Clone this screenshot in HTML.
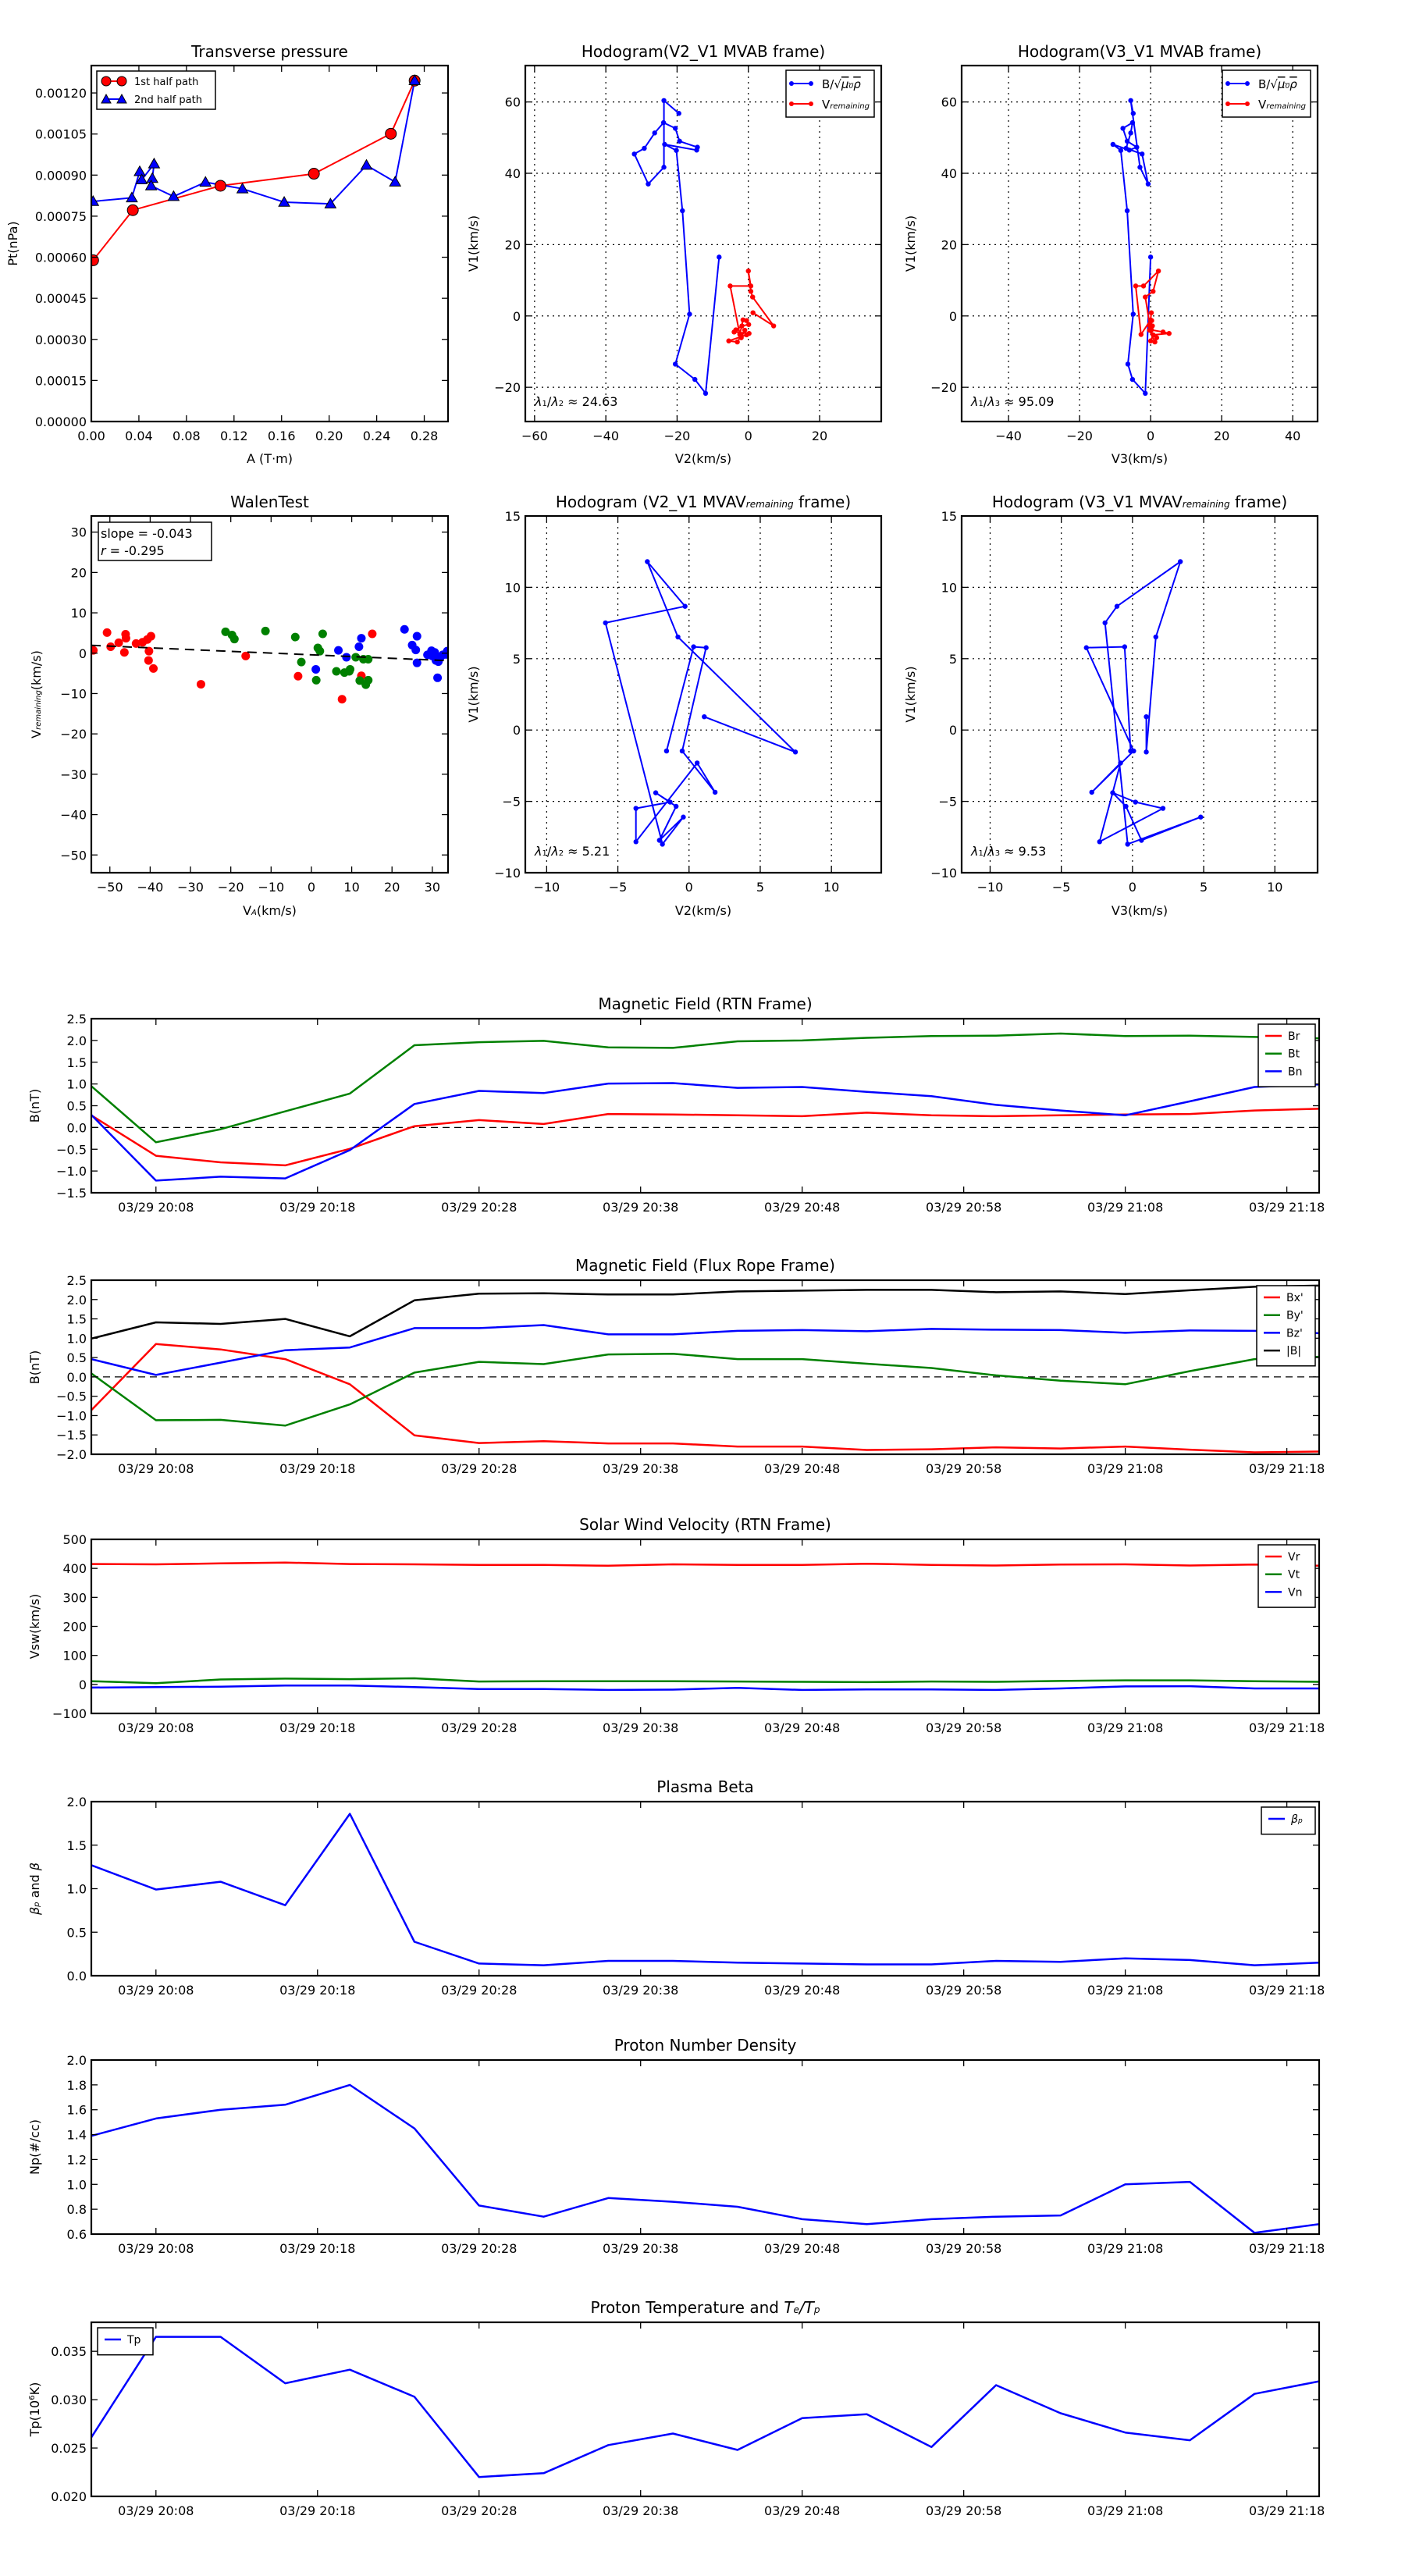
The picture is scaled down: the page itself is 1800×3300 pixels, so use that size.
<!DOCTYPE html>
<html><head><meta charset="utf-8">
<style>
html,body{margin:0;padding:0;background:#fff;}
svg{display:block;font-family:"DejaVu Sans","Liberation Sans",sans-serif;}
</style></head>
<body>
<svg id="fig" width="1800" height="3300" viewBox="0 0 1800 3300" xmlns="http://www.w3.org/2000/svg">
<rect x="0" y="0" width="1800" height="3300" fill="#fff"/>
</svg>
<script>
// ---------- DATA ----------
// Transverse pressure
const ptRedA = [0.0015, 0.0349, 0.1086, 0.1872, 0.2519, 0.2719];
const ptRedP = [0.000589, 0.000772, 0.000861, 0.000905, 0.001051, 0.001245];
const ptBlueA = [0.0015, 0.0341, 0.0407, 0.0424, 0.0528, 0.0513, 0.0503, 0.0692, 0.0960, 0.1271, 0.1622, 0.2011, 0.2314, 0.2555, 0.2719];
const ptBlueP = [0.000804, 0.000817, 0.000913, 0.000883, 0.000941, 0.000888, 0.000861, 0.000822, 0.000874, 0.000850, 0.000801, 0.000795, 0.000936, 0.000875, 0.001245];
const ptXTicks = [0, 0.04, 0.08, 0.12, 0.16, 0.20, 0.24, 0.28];
const ptYTicks = [0, 0.00015, 0.0003, 0.00045, 0.0006, 0.00075, 0.0009, 0.00105, 0.0012];

// MVAB hodograms
const hbV2 = [-8.2, -12.0, -15.0, -20.5, -16.5, -18.5, -20.2, -23.5, -14.5, -14.3, -19.3, -20.5, -23.8, -26.3, -29.2, -32.0, -28.1, -23.7, -23.7, -19.5];
const hbV1 = [16.5, -21.7, -17.8, -13.5, 0.5, 29.5, 46.4, 48.1, 46.5, 47.3, 49.0, 52.6, 54.2, 51.3, 47.0, 45.4, 37.0, 41.7, 60.4, 56.8];
const hbV3 = [0.0, -1.5, -5.1, -6.4, -4.9, -6.6, -8.4, -10.6, -6.0, -3.9, -6.6, -7.8, -5.1, -5.6, -6.9, -2.4, -0.7, -3.0, -5.6, -4.9];
const hvV2 = [1.3, 7.1, 1.2, 0.7, 0.0, 0.7, -5.1, -2.4, -1.1, -1.3, -2.4, -2.8, -3.9, -4.5, -4.9, -5.3, -7.0, -7.3, -4.0, -6.1].map((v,i)=>v); // placeholder replaced below
const hvV2d = [1.3, 7.1, 1.2, 0.7, 0.0, 0.7, -5.1, -2.4, -1.5, -0.5, 0.1, -1.8, -3.5, -4.0, 0.2, -0.5, -5.5, -3.1, -1.0, -2.0];
const hvV1d = [0.9, -2.8, 5.3, 6.9, 12.6, 8.4, 8.4, -5.2, -1.1, -1.3, -2.4, -2.8, -3.9, -4.5, -4.9, -5.3, -7.0, -7.3, -4.0, -6.1];
const hvV3d = [0.2, -0.2, -1.5, 0.7, 2.2, -2.0, -4.2, -2.7, 0.0, 0.3, -0.2, 0.5, 0.2, 3.5, 5.2, 0.7, 0.0, 1.2, -0.3, 1.7];

// MVAV hodograms
const hrV2 = [1.07, 7.47, -0.78, -2.93, -0.28, -5.87, -1.87, -0.40, -2.08, -0.91, -2.34, -1.33, -3.73, -3.73, 0.57, 1.83, -0.48, 1.20, 0.32, -1.58];
const hrV1 = [0.93, -1.54, 6.52, 11.8, 8.67, 7.51, -8.0, -6.1, -7.73, -5.35, -4.40, -5.05, -5.49, -7.83, -2.31, -4.36, -1.47, 5.77, 5.83, -1.47];
const hrV3 = [0.97, 0.97, 1.64, 3.36, -1.09, -1.93, -0.34, 4.79, 0.63, -0.46, -1.39, 0.21, 2.14, -2.31, -0.84, -2.86, 0.08, -3.24, -0.55, -0.13];

// Walen test
const walRedX = [-54.1, -50.7, -49.8, -47.8, -46.4, -46.1, -46.0, -43.5, -41.9, -40.7, -40.3, -39.8, -40.4, -39.2, -27.4, -16.3, -3.3, 7.6, 12.4, 15.1];
const walRedY = [0.7, 5.1, 1.6, 2.6, 0.2, 4.7, 3.7, 2.4, 2.7, 3.4, 0.5, 4.2, -1.8, -3.8, -7.7, -0.7, -5.7, -11.4, -5.6, 4.8];
const walGreenX = [-21.3, -19.7, -19.1, -11.4, -4.0, -2.5, 1.2, 1.6, 2.1, 2.8, 6.2, 8.2, 9.4, 9.6, 11.0, 12.0, 12.9, 13.5, 14.1, 14.1];
const walGreenY = [5.3, 4.5, 3.5, 5.5, 4.0, -2.2, -6.7, 1.3, 0.5, 4.8, -4.5, -4.8, -4.5, -4.0, -1.0, -6.8, -1.5, -7.8, -6.7, -1.5];
const walBlueX = [1.1, 6.7, 8.7, 11.8, 12.4, 23.1, 25.0, 25.9, 26.2, 26.2, 28.8, 29.8, 30.6, 31.3, 31.5, 32.0, 32.6, 33.4, 33.7, 30.0, 30.9];
const walBlueY = [-4.0, 0.7, -1.0, 1.6, 3.7, 5.9, 2.0, 0.8, 4.2, -2.4, -0.4, 0.6, 0.2, -6.1, -2.1, -1.0, -0.4, -0.3, 0.5, -0.7, -1.8];
const walSlope = -0.043;
const walIntercept = -0.4;

// Time series (20 samples every 4 min, starting 20:04)
const timeMin = [0,4,8,12,16,20,24,28,32,36,40,44,48,52,56,60,64,68,72,76];
const timeTickMin = [4,14,24,34,44,54,64,74];
const timeTickLabels = ["03/29 20:08","03/29 20:18","03/29 20:28","03/29 20:38","03/29 20:48","03/29 20:58","03/29 21:08","03/29 21:18"];
const Br = [0.28,-0.65,-0.80,-0.87,-0.49,0.03,0.17,0.08,0.31,0.30,0.28,0.26,0.34,0.28,0.26,0.28,0.30,0.31,0.39,0.43];
const Bt = [0.95,-0.34,-0.04,0.37,0.78,1.89,1.96,1.99,1.84,1.83,1.98,2.00,2.06,2.10,2.11,2.16,2.10,2.11,2.08,2.05];
const Bn = [0.29,-1.22,-1.13,-1.17,-0.52,0.54,0.84,0.79,1.01,1.02,0.91,0.93,0.82,0.72,0.52,0.39,0.28,0.60,0.93,0.99];
const Bx = [-0.86,0.85,0.71,0.46,-0.19,-1.51,-1.71,-1.66,-1.72,-1.72,-1.80,-1.80,-1.89,-1.87,-1.82,-1.85,-1.80,-1.88,-1.95,-1.93];
const By = [0.09,-1.12,-1.11,-1.26,-0.71,0.11,0.39,0.33,0.58,0.60,0.46,0.46,0.34,0.23,0.04,-0.10,-0.19,0.15,0.46,0.52];
const Bz = [0.46,0.05,0.37,0.69,0.76,1.26,1.26,1.34,1.10,1.10,1.19,1.21,1.18,1.24,1.22,1.21,1.14,1.20,1.19,1.13];
const Bmag = [0.99,1.41,1.37,1.50,1.05,1.98,2.15,2.16,2.13,2.13,2.21,2.23,2.25,2.25,2.19,2.21,2.14,2.24,2.33,2.36];
const Vr = [415,414,417,420,415,414,412,412,409,414,412,412,416,412,410,413,414,410,413,409];
const Vt = [11,4,17,20,18,21,10,11,11,11,10,9,8,10,9,12,14,14,11,9];
const Vn = [-11,-9,-8,-4,-4,-9,-16,-16,-19,-18,-12,-19,-17,-17,-19,-14,-7,-6,-14,-14];
const betaP = [1.27,0.99,1.08,0.81,1.86,0.39,0.14,0.12,0.17,0.17,0.15,0.14,0.13,0.13,0.17,0.16,0.20,0.18,0.12,0.15];
const Np = [1.39,1.53,1.60,1.64,1.80,1.45,0.83,0.74,0.89,0.86,0.82,0.72,0.68,0.72,0.74,0.75,1.00,1.02,0.61,0.68];
const Tp = [0.0261,0.0365,0.0365,0.0317,0.0331,0.0303,0.0220,0.0224,0.0253,0.0265,0.0248,0.0281,0.0285,0.0251,0.0315,0.0286,0.0266,0.0258,0.0306,0.0319];

// ---------- HELPERS ----------
const NS = "http://www.w3.org/2000/svg";
const fig = document.getElementById('fig');
let clipId = 0;
function mk(tag, attrs, parent, name, inter){
  const el = document.createElementNS(NS, tag);
  for (const k in attrs) el.setAttribute(k, attrs[k]);
  
  
  (parent || fig).appendChild(el);
  return el;
}
function txt(x, y, s, size, anchor, parent, name, extra){
  const a = Object.assign({x:x, y:y, 'font-size':size, 'text-anchor':anchor||'middle', fill:'#000'}, extra||{});
  const t = mk('text', a, parent, name, false);
  t.innerHTML = s;
  return t;
}
function fmt(v, d){ const s = Math.abs(v).toFixed(d); return (v < -1e-12 ? '\u2212' : '') + s; }

function axes(o){
  const g = mk('g', {}, fig, o.name, false);
  const sx = v => o.x0 + (v - o.xmin) / (o.xmax - o.xmin) * (o.x1 - o.x0);
  const sy = v => o.y1 - (v - o.ymin) / (o.ymax - o.ymin) * (o.y1 - o.y0);
  const id = 'clip' + (clipId++);
  const cp = mk('clipPath', {id:id}, g, 'clip-region', false);
  mk('rect', {x:o.x0, y:o.y0, width:o.x1-o.x0, height:o.y1-o.y0}, cp, 'clip-rect', false);
  if (o.grid){
    o.xt.forEach(v => mk('line', {x1:sx(v), x2:sx(v), y1:o.y0, y2:o.y1, stroke:'#000', 'stroke-width':1.2, 'stroke-dasharray':'2,5'}, g, 'x-grid-line', false));
    o.yt.forEach(v => mk('line', {x1:o.x0, x2:o.x1, y1:sy(v), y2:sy(v), stroke:'#000', 'stroke-width':1.2, 'stroke-dasharray':'2,5'}, g, 'y-grid-line', false));
  }
  const data = mk('g', {'clip-path':'url(#'+id+')'}, g, 'plot-area', false);
  const tl = 8;
  o.xt.forEach((v,i) => {
    const x = sx(v);
    mk('line', {x1:x, x2:x, y1:o.y1, y2:o.y1-tl, stroke:'#000', 'stroke-width':1.3}, g, 'x-tick', false);
    mk('line', {x1:x, x2:x, y1:o.y0, y2:o.y0+tl, stroke:'#000', 'stroke-width':1.3}, g, 'x-tick', false);
    txt(x, o.y1 + 24, o.xtl[i], 16, 'middle', g, 'x-tick-label');
  });
  o.yt.forEach((v,i) => {
    const y = sy(v);
    mk('line', {x1:o.x0, x2:o.x0+tl, y1:y, y2:y, stroke:'#000', 'stroke-width':1.3}, g, 'y-tick', false);
    mk('line', {x1:o.x1, x2:o.x1-tl, y1:y, y2:y, stroke:'#000', 'stroke-width':1.3}, g, 'y-tick', false);
    txt(o.x0 - 6, y + 6, o.ytl[i], 16, 'end', g, 'y-tick-label');
  });
  if (o.title) txt((o.x0+o.x1)/2, o.titleY, o.title, 20, 'middle', g, 'chart-title');
  if (o.xlabel) txt((o.x0+o.x1)/2, o.xlabelY, o.xlabel, 16, 'middle', g, 'x-axis-title');
  if (o.ylabel) txt(o.ylabelX, (o.y0+o.y1)/2, o.ylabel, 16, 'middle', g, 'y-axis-title', {transform:'rotate(-90 '+o.ylabelX+' '+(o.y0+o.y1)/2+')'});
  return {g:g, data:data, sx:sx, sy:sy, o:o};
}
function frame(ax){
  const o = ax.o;
  mk('rect', {x:o.x0, y:o.y0, width:o.x1-o.x0, height:o.y1-o.y0, fill:'none', stroke:'#000', 'stroke-width':2.2}, ax.g, 'axes-frame', false);
}
function line(ax, xs, ys, color, w, name, dash){
  const pts = xs.map((x,i) => ax.sx(x).toFixed(1) + ',' + ax.sy(ys[i]).toFixed(1)).join(' ');
  const a = {points:pts, fill:'none', stroke:color, 'stroke-width':w, 'stroke-linejoin':'round'};
  if (dash) a['stroke-dasharray'] = dash;
  return mk('polyline', a, ax.data, name, false);
}
function dots(ax, xs, ys, color, r, name, edge){
  xs.forEach((x,i) => {
    const a = {cx:ax.sx(x), cy:ax.sy(ys[i]), r:r, fill:color};
    if (edge){ a.stroke = '#000'; a['stroke-width'] = 1; }
    mk('circle', a, ax.data, name, false);
  });
}
function tris(ax, xs, ys, color, s, name){
  xs.forEach((x,i) => {
    const cx = ax.sx(x), cy = ax.sy(ys[i]);
    mk('polygon', {points:(cx)+','+(cy-s)+' '+(cx-s)+','+(cy+s*0.75)+' '+(cx+s)+','+(cy+s*0.75), fill:color, stroke:'#000', 'stroke-width':1}, ax.data, name, false);
  });
}
function range(a, b, s){ const r=[]; for(let v=a; v<=b+1e-9; v+=s) r.push(+v.toFixed(6)); return r; }

// ---------- TRANSVERSE PRESSURE ----------
(function(){
  const ax = axes({name:'transverse-pressure-chart', x0:117, x1:574, y0:84, y1:540, xmin:0, xmax:0.30, ymin:0, ymax:0.0013,
    xt:ptXTicks, xtl:ptXTicks.map(v=>v.toFixed(2)), yt:ptYTicks, ytl:ptYTicks.map(v=>v.toFixed(5)),
    title:'Transverse pressure', titleY:73, xlabel:'A (T\u00b7m)', xlabelY:593, ylabel:'Pt(nPa)', ylabelX:22});
  line(ax, ptRedA, ptRedP, '#f00', 2, 'first-half-path-line');
  line(ax, ptBlueA, ptBlueP, '#00f', 2, 'second-half-path-line');
  dots(ax, ptRedA, ptRedP, '#f00', 7, 'first-half-point', true);
  tris(ax, ptBlueA, ptBlueP, '#00f', 7, 'second-half-point');
  frame(ax);
  const lg = mk('g', {}, ax.g, 'legend', false);
  mk('rect', {x:124, y:91, width:152, height:49, fill:'#fff', stroke:'#000', 'stroke-width':1.5}, lg, 'legend-box', false);
  mk('line', {x1:136, x2:156, y1:104, y2:104, stroke:'#f00', 'stroke-width':2}, lg, 'legend-line-first', false);
  mk('circle', {cx:136, cy:104, r:6, fill:'#f00', stroke:'#000'}, lg, 'legend-marker', false);
  mk('circle', {cx:156, cy:104, r:6, fill:'#f00', stroke:'#000'}, lg, 'legend-marker', false);
  txt(172, 109, '1st half path', 13, 'start', lg, 'legend-label-first');
  mk('line', {x1:136, x2:156, y1:127, y2:127, stroke:'#00f', 'stroke-width':2}, lg, 'legend-line-second', false);
  mk('polygon', {points:'136,121 130,132 142,132', fill:'#00f', stroke:'#000'}, lg, 'legend-marker', false);
  mk('polygon', {points:'156,121 150,132 162,132', fill:'#00f', stroke:'#000'}, lg, 'legend-marker', false);
  txt(172, 132, '2nd half path', 13, 'start', lg, 'legend-label-second');
})();

// ---------- HODOGRAMS ----------
function hodoLegend(ax, dx){
  const lg = mk('g', {}, ax.g, 'legend', false);
  mk('rect', {x:1007+dx, y:90, width:113, height:60, fill:'#fff', stroke:'#000', 'stroke-width':1.5}, lg, 'legend-box', false);
  mk('line', {x1:1014+dx, x2:1039+dx, y1:107, y2:107, stroke:'#00f', 'stroke-width':2}, lg, 'legend-line-b', false);
  mk('circle', {cx:1014+dx, cy:107, r:3, fill:'#00f'}, lg, 'legend-marker', false);
  mk('circle', {cx:1039+dx, cy:107, r:3, fill:'#00f'}, lg, 'legend-marker', false);
  txt(1053+dx, 113, 'B/\u221a<tspan font-style="italic" text-decoration="overline">\u03bc<tspan font-size="9">0</tspan>\u03c1</tspan>', 15, 'start', lg, 'legend-label-b');
  mk('line', {x1:1014+dx, x2:1039+dx, y1:133, y2:133, stroke:'#f00', 'stroke-width':2}, lg, 'legend-line-v', false);
  mk('circle', {cx:1014+dx, cy:133, r:3, fill:'#f00'}, lg, 'legend-marker', false);
  mk('circle', {cx:1039+dx, cy:133, r:3, fill:'#f00'}, lg, 'legend-marker', false);
  txt(1053+dx, 139, 'V<tspan font-size="10" font-style="italic">remaining</tspan>', 15, 'start', lg, 'legend-label-v');
}
(function(){
  const yt = [-20,0,20,40,60];
  const ax = axes({name:'hodogram-v2-v1-mvab', x0:673, x1:1129, y0:84, y1:540, xmin:-62.6, xmax:37.3, ymin:-29.6, ymax:70.2, grid:true,
    xt:[-60,-40,-20,0,20], xtl:['\u221260','\u221240','\u221220','0','20'], yt:yt, ytl:yt.map(v=>fmt(v,0)),
    title:'Hodogram(V2_V1 MVAB frame)', titleY:73, xlabel:'V2(km/s)', xlabelY:593, ylabel:'V1(km/s)', ylabelX:612});
  line(ax, hbV2, hbV1, '#00f', 2, 'b-hodogram-path'); dots(ax, hbV2, hbV1, '#00f', 3.2, 'b-hodogram-point');
  line(ax, hvV2d, hvV1d, '#f00', 2, 'v-hodogram-path'); dots(ax, hvV2d, hvV1d, '#f00', 3.2, 'v-hodogram-point');
  frame(ax); hodoLegend(ax, 0);
  txt(685, 520, '<tspan font-style="italic">\u03bb</tspan><tspan font-size="10">1</tspan>/<tspan font-style="italic">\u03bb</tspan><tspan font-size="10">2</tspan> \u2248 24.63', 16, 'start', ax.g, 'eigenvalue-ratio');
})();
(function(){
  const yt = [-20,0,20,40,60];
  const ax = axes({name:'hodogram-v3-v1-mvab', x0:1232, x1:1688, y0:84, y1:540, xmin:-53.2, xmax:47, ymin:-29.6, ymax:70.2, grid:true,
    xt:[-40,-20,0,20,40], xtl:['\u221240','\u221220','0','20','40'], yt:yt, ytl:yt.map(v=>fmt(v,0)),
    title:'Hodogram(V3_V1 MVAB frame)', titleY:73, xlabel:'V3(km/s)', xlabelY:593, ylabel:'V1(km/s)', ylabelX:1172});
  line(ax, hbV3, hbV1, '#00f', 2, 'b-hodogram-path'); dots(ax, hbV3, hbV1, '#00f', 3.2, 'b-hodogram-point');
  line(ax, hvV3d, hvV1d, '#f00', 2, 'v-hodogram-path'); dots(ax, hvV3d, hvV1d, '#f00', 3.2, 'v-hodogram-point');
  frame(ax); hodoLegend(ax, 559);
  txt(1244, 520, '<tspan font-style="italic">\u03bb</tspan><tspan font-size="10">1</tspan>/<tspan font-style="italic">\u03bb</tspan><tspan font-size="10">3</tspan> \u2248 95.09', 16, 'start', ax.g, 'eigenvalue-ratio');
})();

// ---------- WALEN TEST ----------
(function(){
  const t = [-50,-40,-30,-20,-10,0,10,20,30];
  const ax = axes({name:'walen-test-chart', x0:117, x1:574, y0:661, y1:1118, xmin:-54.6, xmax:33.9, ymin:-54.4, ymax:34, 
    xt:t, xtl:t.map(v=>fmt(v,0)), yt:t, ytl:t.map(v=>fmt(v,0)),
    title:'WalenTest', titleY:650, xlabel:'V<tspan font-size="10" font-style="italic">A</tspan>(km/s)', xlabelY:1172, ylabel:'V<tspan font-size="10" font-style="italic">remaining</tspan>(km/s)', ylabelX:52});
  dots(ax, walRedX, walRedY, '#f00', 5.5, 'walen-point-red');
  dots(ax, walGreenX, walGreenY, '#008000', 5.5, 'walen-point-green');
  dots(ax, walBlueX, walBlueY, '#00f', 5.5, 'walen-point-blue');
  const fx = [-54.6, 33.9];
  line(ax, fx, fx.map(x => walSlope*x + walIntercept), '#000', 2, 'walen-fit-line', '12,8');
  frame(ax);
  mk('rect', {x:126, y:669, width:145, height:49, fill:'#fff', stroke:'#000', 'stroke-width':1.5}, ax.g, 'walen-stats-box', false);
  txt(129, 689, 'slope = -0.043', 16, 'start', ax.g, 'walen-slope-text');
  txt(129, 711, '<tspan font-style="italic">r</tspan> = -0.295', 16, 'start', ax.g, 'walen-r-text');
})();

// ---------- MVAV HODOGRAMS ----------
(function(){
  const yt = [-10,-5,0,5,10,15];
  const xt = [-10,-5,0,5,10];
  const ax = axes({name:'hodogram-v2-v1-mvav', x0:673, x1:1129, y0:661, y1:1118, xmin:-11.5, xmax:13.5, ymin:-10, ymax:15, grid:true,
    xt:xt, xtl:xt.map(v=>fmt(v,0)), yt:yt, ytl:yt.map(v=>fmt(v,0)),
    title:'Hodogram (V2_V1 MVAV<tspan font-size="12" font-style="italic">remaining</tspan> frame)', titleY:650, xlabel:'V2(km/s)', xlabelY:1172, ylabel:'V1(km/s)', ylabelX:612});
  line(ax, hrV2, hrV1, '#00f', 2, 'v-hodogram-path'); dots(ax, hrV2, hrV1, '#00f', 3.2, 'v-hodogram-point');
  frame(ax);
  txt(685, 1096, '<tspan font-style="italic">\u03bb</tspan><tspan font-size="10">1</tspan>/<tspan font-style="italic">\u03bb</tspan><tspan font-size="10">2</tspan> \u2248 5.21', 16, 'start', ax.g, 'eigenvalue-ratio');
})();
(function(){
  const yt = [-10,-5,0,5,10,15];
  const xt = [-10,-5,0,5,10];
  const ax = axes({name:'hodogram-v3-v1-mvav', x0:1232, x1:1688, y0:661, y1:1118, xmin:-12, xmax:13, ymin:-10, ymax:15, grid:true,
    xt:xt, xtl:xt.map(v=>fmt(v,0)), yt:yt, ytl:yt.map(v=>fmt(v,0)),
    title:'Hodogram (V3_V1 MVAV<tspan font-size="12" font-style="italic">remaining</tspan> frame)', titleY:650, xlabel:'V3(km/s)', xlabelY:1172, ylabel:'V1(km/s)', ylabelX:1172});
  line(ax, hrV3, hrV1, '#00f', 2, 'v-hodogram-path'); dots(ax, hrV3, hrV1, '#00f', 3.2, 'v-hodogram-point');
  frame(ax);
  txt(1244, 1096, '<tspan font-style="italic">\u03bb</tspan><tspan font-size="10">1</tspan>/<tspan font-style="italic">\u03bb</tspan><tspan font-size="10">3</tspan> \u2248 9.53', 16, 'start', ax.g, 'eigenvalue-ratio');
})();

// ---------- TIME SERIES ----------
function tsLegend(ax, entries, x0, y0, x1, name){
  const lg = mk('g', {}, ax.g, name, false);
  const h = 12 + entries.length * 22.7;
  mk('rect', {x:x0, y:y0, width:x1-x0, height:h, fill:'#fff', stroke:'#000', 'stroke-width':1.5}, lg, 'legend-box', false);
  entries.forEach((e,i) => {
    const y = y0 + 15 + i*22.7;
    mk('line', {x1:x0+9, x2:x0+30, y1:y, y2:y, stroke:e[1], 'stroke-width':2.5}, lg, 'legend-line', false);
    txt(x0+38, y+5, e[0], 14, 'start', lg, 'legend-label');
  });
}
function ts(name, y0, y1, ymin, ymax, yt, dec, title, ylabel, series, zero){
  const ax = axes({name:name, x0:117, x1:1690, y0:y0, y1:y1, xmin:0, xmax:76, ymin:ymin, ymax:ymax,
    xt:timeTickMin, xtl:timeTickLabels, yt:yt, ytl:yt.map(v=>fmt(v,dec)),
    title:title, titleY:y0-12, ylabel:ylabel, ylabelX:50});
  if (zero) line(ax, [0,76], [0,0], '#000', 1.3, 'zero-line', '9,6');
  series.forEach(s => line(ax, timeMin, s[1], s[2], 2.5, s[3]));
  frame(ax);
  return ax;
}
(function(){
  const a1 = ts('magnetic-field-rtn-chart', 1305, 1528, -1.5, 2.5, range(-1.5,2.5,0.5), 1, 'Magnetic Field (RTN Frame)', 'B(nT)',
    [['Br',Br,'#f00','br-line'],['Bt',Bt,'#008000','bt-line'],['Bn',Bn,'#00f','bn-line']], true);
  tsLegend(a1, [['Br','#f00'],['Bt','#008000'],['Bn','#00f']], 1612, 1312, 1685, 'legend');
  const a2 = ts('magnetic-field-flux-rope-chart', 1640, 1863, -2.0, 2.5, range(-2,2.5,0.5), 1, 'Magnetic Field (Flux Rope Frame)', 'B(nT)',
    [['Bx',Bx,'#f00','bx-line'],['By',By,'#008000','by-line'],['Bz',Bz,'#00f','bz-line'],['B',Bmag,'#000','bmag-line']], true);
  tsLegend(a2, [["Bx'",'#f00'],["By'",'#008000'],["Bz'",'#00f'],['|B|','#000']], 1610, 1647, 1685, 'legend');
  const a3 = ts('solar-wind-velocity-chart', 1972, 2195, -100, 500, range(-100,500,100), 0, 'Solar Wind Velocity (RTN Frame)', 'Vsw(km/s)',
    [['Vr',Vr,'#f00','vr-line'],['Vt',Vt,'#008000','vt-line'],['Vn',Vn,'#00f','vn-line']], false);
  tsLegend(a3, [['Vr','#f00'],['Vt','#008000'],['Vn','#00f']], 1612, 1979, 1685, 'legend');
  const a4 = ts('plasma-beta-chart', 2308, 2531, 0, 2.0, range(0,2,0.5), 1, 'Plasma Beta', '<tspan font-style="italic">\u03b2<tspan font-size="10">p</tspan></tspan> and <tspan font-style="italic">\u03b2</tspan>',
    [['beta',betaP,'#00f','beta-line']], false);
  tsLegend(a4, [['<tspan font-style="italic">\u03b2<tspan font-size="9">p</tspan></tspan>','#00f']], 1616, 2315, 1685, 'legend');
  ts('proton-density-chart', 2639, 2862, 0.6, 2.0, range(0.6,2.0,0.2), 1, 'Proton Number Density', 'Np(#/cc)',
    [['Np',Np,'#00f','np-line']], false);
  const a6 = ts('proton-temperature-chart', 2975, 3198, 0.020, 0.038, [0.020,0.025,0.030,0.035], 3, 'Proton Temperature and <tspan font-style="italic">T<tspan font-size="12">e</tspan>/T<tspan font-size="12">p</tspan></tspan>', 'Tp(10<tspan font-size="10" dy="-6">6</tspan><tspan dy="6">K)</tspan>',
    [['Tp',Tp,'#00f','tp-line']], false);
  tsLegend(a6, [['Tp','#00f']], 125, 2982, 196, 'legend');
})();
</script>
</body></html>
